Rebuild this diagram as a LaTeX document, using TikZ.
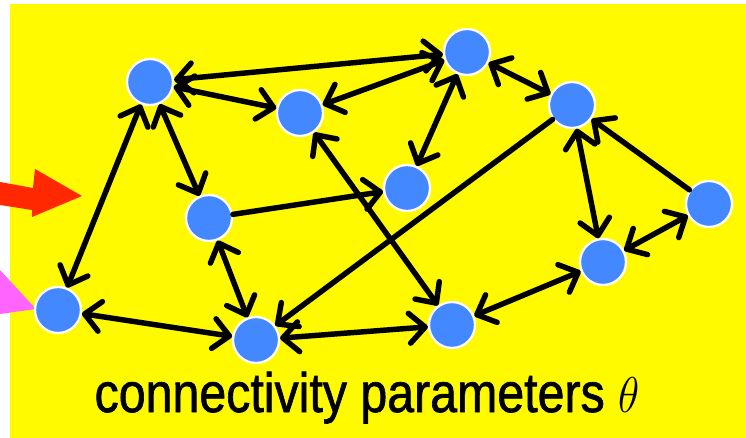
\documentclass[tikz,border=0pt]{standalone}
\usepackage{fontspec}
\setmainfont{Liberation Sans}
\newfontfamily\labelfont[FakeBold=1.3]{Liberation Sans}
\usetikzlibrary{arrows.meta}
\definecolor{bgyellow}{RGB}{255,250,0}
\definecolor{unitblue}{RGB}{68,136,255}
\definecolor{inred}{RGB}{255,40,0}
\definecolor{inpink}{RGB}{255,100,255}

\begin{document}
\begin{tikzpicture}[x=0.02cm, y=-0.02cm,
  unit/.style={circle, fill=unitblue, draw=white, line width=1.3pt, minimum size=0.92cm, inner sep=0pt},
  link/.style={line width=3.1pt, line cap=round, {Straight Barb[length=9pt, width=17pt, round]}-{Straight Barb[length=9pt, width=17pt, round]}},
  fwd/.style={line width=3.1pt, line cap=round, -{Straight Barb[length=9pt, width=17pt, round]}}]
  \useasboundingbox (0,0) rectangle (746,438);
  \fill[bgyellow] (10,4) rectangle (746,438);
  % inputs coming in from the left
  \fill[inred] (0,182) -- (33,188) -- (35,169) -- (82,196) -- (32,217) -- (32,210) -- (0,205) -- cycle;
  \fill[inpink] (0,270) -- (36,309) -- (0,314) -- cycle;
  % units
  \node[unit] (a) at (150,82) {};
  \node[unit] (b) at (300,113) {};
  \node[unit] (c) at (467,52) {};
  \node[unit] (d) at (572,105) {};
  \node[unit] (e) at (407,188) {};
  \node[unit] (f) at (209,218) {};
  \node[unit] (g) at (709,204) {};
  \node[unit] (h) at (603,262) {};
  \node[unit] (i) at (58,310) {};
  \node[unit] (j) at (256,340) {};
  \node[unit] (k) at (452,325) {};
  % connections
  \draw[link] (a) -- (c);
  \draw[link] (a) -- (b);
  \draw[link] (b) -- (c);
  \draw[link] (c) -- (d);
  \draw[link] (c) -- (e);
  \draw[link] (a) -- (f);
  \draw[link] (a) -- (i);
  \draw[fwd] (f) -- (e);
  \draw[link] (f) -- (j);
  \draw[link] (i) -- (j);
  \draw[link] (j) -- (k);
  \draw[fwd] (d) -- (j);
  \draw[link] (b) -- (k);
  \draw[link] (d) -- (h);
  \draw[fwd] (g) -- (d);
  \draw[link] (h) -- (g);
  \draw[link] (k) -- (h);
  \node[anchor=base, font=\labelfont\fontsize{27.5}{30}\selectfont] (lbl) at (367,412)
    {\scalebox{1}[1.15]{connectivity parameters $\theta$}};
\end{tikzpicture}
\end{document}
